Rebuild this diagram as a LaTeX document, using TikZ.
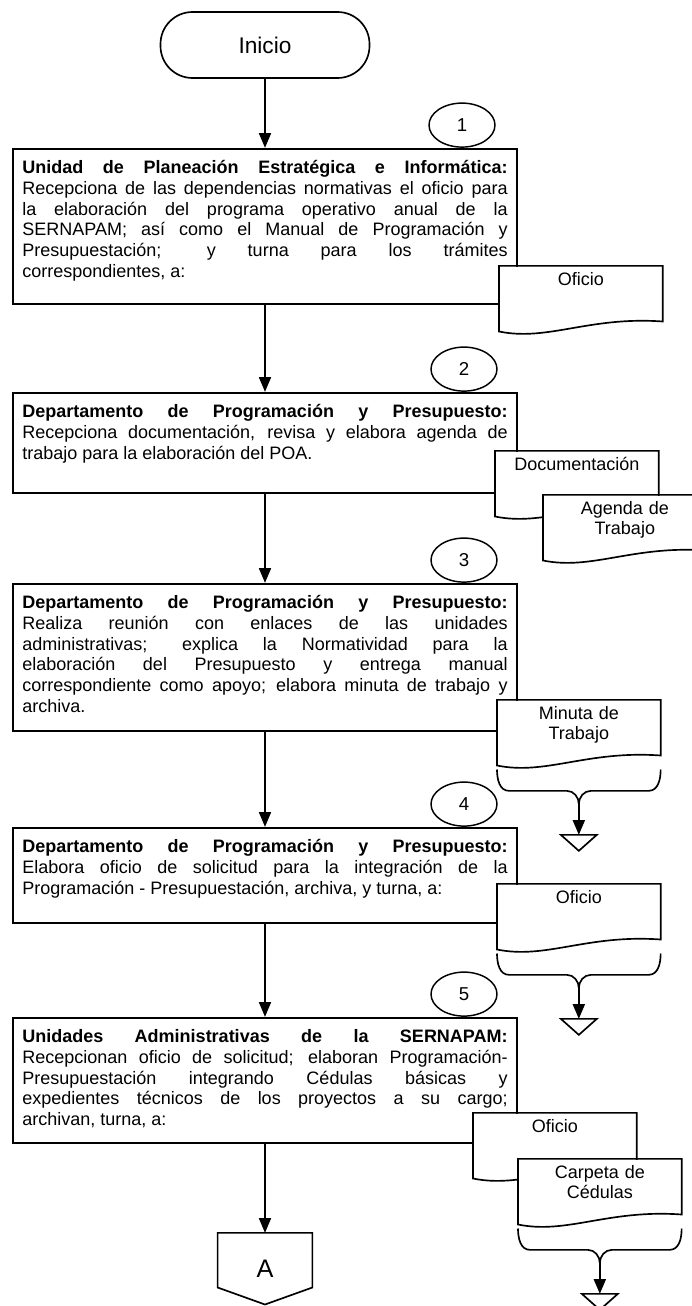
\documentclass[tikz,border=0pt]{standalone}
\usepackage{fontspec}
\setmainfont{Liberation Sans}
\usepackage{tikz}
\usetikzlibrary{positioning, arrows.meta, shapes.geometric, calc}
\tolerance=10000
\hbadness=10000
\hyphenpenalty=10000

% outline of a document symbol (wavy bottom)
\newcommand{\docoutline}[1]{%
  \draw ([yshift=1.5pt]#1.south west) -- (#1.north west) -- (#1.north east) -- ([yshift=9pt]#1.south east)
    .. controls ($(#1.south west)!0.55!(#1.south east)+(0,13pt)$) and ($(#1.south west)!0.3!(#1.south east)+(0,-6pt)$) .. ([yshift=1.5pt]#1.south west) -- cycle;}

% brace under a document, arrow to the archive triangle
\newcommand{\archivebrace}[2]{%
  \coordinate (#2-l) at ([yshift=-1.5pt]#1.south west);
  \coordinate (#2-r) at ([yshift=-1.5pt]#1.south east);
  \coordinate (#2-m) at ($(#2-l)!0.5!(#2-r)+(0,-26pt)$);
  \coordinate (#2) at ($(#2-m)+(0,-23pt)$);
  \draw (#2-l) to[out=-90,in=180] ($(#2-l)+(9pt,-16pt)$) -- ($(#2-m)+(-9pt,10pt)$) to[out=0,in=90] (#2-m)
    to[out=90,in=180] ($(#2-m)+(9pt,10pt)$) -- ($(#2-r)+(-9pt,-16pt)$) to[out=0,in=-90] (#2-r);
  \draw[arrow] (#2-m) -- (#2);
  \draw ([xshift=-13.5pt]#2) -- ([xshift=13.5pt]#2) -- ([yshift=-12pt]#2) -- cycle;}

\begin{document}
\begin{tikzpicture}[
        font=\fontsize{13.5}{15.5}\selectfont,
        >={Triangle[length=11pt, width=9pt]},
        line width=1.25pt,
        startstop/.style={rectangle, rounded corners=24pt, draw, minimum width=156.75pt, minimum height=49.5pt, font=\fontsize{17}{20}\selectfont},
        process/.style={rectangle, draw, line width=1.5pt, text width=364pt, inner xsep=7pt, inner ysep=0pt, text height=18.75pt, align=justify, anchor=north},
        stepno/.style={ellipse, draw, line width=1.1pt, minimum width=49.5pt, minimum height=33pt, inner sep=0pt, font=\fontsize{14}{16}\selectfont},
        docu/.style={rectangle, fill=white, minimum width=121.5pt, text width=115pt, inner sep=0pt, text height=14.25pt, text depth=35.25pt, align=center, anchor=north west, font=\fontsize{13.5}{15}\selectfont},
        offpage/.style={rectangle, minimum width=69.75pt, minimum height=52.5pt, font=\fontsize{19}{20}\selectfont},
        arrow/.style={->}
    ]
        \useasboundingbox (-198.75pt,-945.75pt) rectangle (320.25pt,33.75pt);

        % Start
        \node[startstop] (inicio) {Inicio};

        % Steps
        \node[process, below=51.75pt of inicio, text depth=97.5pt] (box1)
          {\textbf{Unidad de Planeación Estratégica e Informática:}\linebreak
           Recepciona de las dependencias normativas el oficio para\linebreak
           la elaboración del programa operativo anual de la\linebreak
           SERNAPAM; así como el Manual de Programación y\linebreak
           Presupuestación; y turna para los trámites\linebreak
           correspondientes, a:};
        \node[process, below=65.25pt of box1, text depth=56.25pt] (box2)
          {\textbf{Departamento de Programación y Presupuesto:}\linebreak
           Recepciona documentación, revisa y elabora agenda de\linebreak
           trabajo para la elaboración del POA.};
        \node[process, below=66.75pt of box2, text depth=91.5pt] (box3)
          {\textbf{Departamento de Programación y Presupuesto:}\linebreak
           Realiza reunión con enlaces de las unidades\linebreak
           administrativas; explica la Normatividad para la\linebreak
           elaboración del Presupuesto y entrega manual\linebreak
           correspondiente como apoyo; elabora minuta de trabajo y\linebreak
           archiva.};
        \node[process, below=71.25pt of box3, text depth=52.5pt] (box4)
          {\textbf{Departamento de Programación y Presupuesto:}\linebreak
           Elabora oficio de solicitud para la integración de la\linebreak
           Programación - Presupuestación, archiva, y turna, a:};
        \node[process, below=69.75pt of box4, text depth=75pt] (box5)
          {\textbf{Unidades Administrativas de la SERNAPAM:}\linebreak
           Recepcionan oficio de solicitud; elaboran Programación-\linebreak
           Presupuestación integrando Cédulas básicas y\linebreak
           expedientes técnicos de los proyectos a su cargo;\linebreak
           archivan, turna, a:};

        % Off-page connector
        \node[offpage, below=66.75pt of box5] (conA) {A};
        \draw (conA.north west) -- (conA.north east) -- ([yshift=12.75pt]conA.south east) -- (conA.south) -- ([yshift=12.75pt]conA.south west) -- cycle;

        % Step numbers
        \node[stepno, anchor=south] (n1) at ([xshift=-42pt]box1.north east) {1};
        \node[stepno, anchor=south] (n2) at ([xshift=-40.5pt]box2.north east) {2};
        \node[stepno, anchor=south] (n3) at ([xshift=-40.5pt]box3.north east) {3};
        \node[stepno, anchor=south] (n4) at ([xshift=-40.5pt]box4.north east) {4};
        \node[stepno, anchor=south] (n5) at ([xshift=-40.5pt]box5.north east) {5};

        % Documents
        \node[docu] (doc1) at ([xshift=-14.25pt, yshift=29.25pt]box1.south east) {Oficio};
        \docoutline{doc1}
        \node[docu] (doc2) at ([xshift=-17.25pt, yshift=32.25pt]box2.south east) {Documentación};
        \docoutline{doc2}
        \node[docu] (doc3) at ([xshift=36pt, yshift=-33pt]doc2.north west) {Agenda de\\Trabajo};
        \docoutline{doc3}
        \node[docu] (doc4) at ([xshift=-15.75pt, yshift=24pt]box3.south east) {Minuta de\\Trabajo};
        \docoutline{doc4}
        \node[docu] (doc5) at ([xshift=-15.75pt, yshift=30pt]box4.south east) {Oficio};
        \docoutline{doc5}
        \node[docu] (doc6) at ([xshift=-33.75pt, yshift=23.25pt]box5.south east) {Oficio};
        \docoutline{doc6}
        \node[docu] (doc7) at ([xshift=33.75pt, yshift=-34.5pt]doc6.north west) {Carpeta de\\Cédulas};
        \docoutline{doc7}

        % Archive
        \archivebrace{doc4}{arch1}
        \archivebrace{doc5}{arch2}
        \archivebrace{doc7}{arch3}

        % Arrows
        \draw[arrow] (inicio) -- (box1);
        \draw[arrow] (box1) -- (box2);
        \draw[arrow] (box2) -- (box3);
        \draw[arrow] (box3) -- (box4);
        \draw[arrow] (box4) -- (box5);
        \draw[arrow] (box5) -- (conA);
    \end{tikzpicture}
\end{document}
